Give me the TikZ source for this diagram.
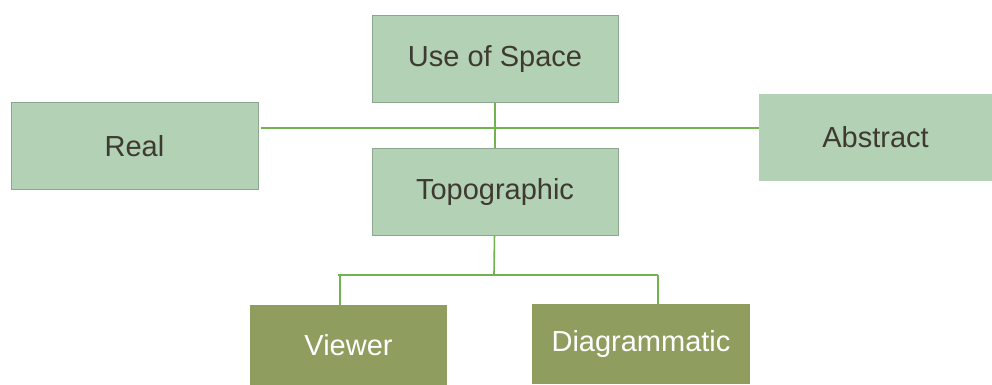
\documentclass[tikz,border=0pt]{standalone}
\usepackage{fontspec}
\setmainfont{Liberation Sans}
\usetikzlibrary{positioning}
\definecolor{boxfill}{HTML}{B2D1B5}
\definecolor{boxline}{HTML}{8DA68E}
\definecolor{linkgreen}{HTML}{72B350}
\definecolor{olive}{HTML}{8F9D5F}
\definecolor{textdark}{HTML}{3F3A2F}

\begin{document}
\begin{tikzpicture}[
  x=1pt, y=1pt,
  lbox/.style={draw=boxline, line width=0.5pt, fill=boxfill, minimum width=123pt,
               minimum height=43.5pt, inner sep=0pt, align=center,
               text=textdark, font=\fontsize{14.5}{17}\selectfont},
  dbox/.style={fill=olive, minimum height=40pt, inner sep=0pt, align=center,
               text=white, font=\fontsize{14.5}{17}\selectfont},
  link/.style={draw=linkgreen, line width=0.8pt}
]
  \useasboundingbox (0,0) rectangle (496,192.5);

  % Top levels
  \node[lbox] (use) at (247.5,163) {Use of Space};
  \node[lbox, below=22.5pt of use] (topo) {Topographic};
  \node[lbox, minimum width=123.5pt] (real) at (67.25,119.25) {Real};
  \node[lbox, draw=none, minimum width=116.5pt] (abstract) at (437.75,123.75) {Abstract};

  % Bottom level
  \node[dbox, minimum width=98.5pt] (viewer) at (174.25,20) {Viewer};
  \node[dbox, minimum width=109pt] (diag) at (320.5,20.5) {Diagrammatic};

  % Junctions
  \coordinate (hub) at (247,128.5);
  \coordinate (split) at (247,55);
  \coordinate (vl) at (169,55);
  \coordinate (dr) at (329,55);

  % Edges
  \draw[link] ([xshift=1pt]real.east |- hub) -- (abstract.west |- hub);
  \draw[link] (use) -- (topo);
  \draw[link] (topo) -- (split);
  \draw[link] (vl) -- (dr);
  \draw[link] ([xshift=1pt]vl) -- ([xshift=1pt]vl |- viewer.north);
  \draw[link] (dr) -- (dr |- diag.north);
\end{tikzpicture}
\end{document}
